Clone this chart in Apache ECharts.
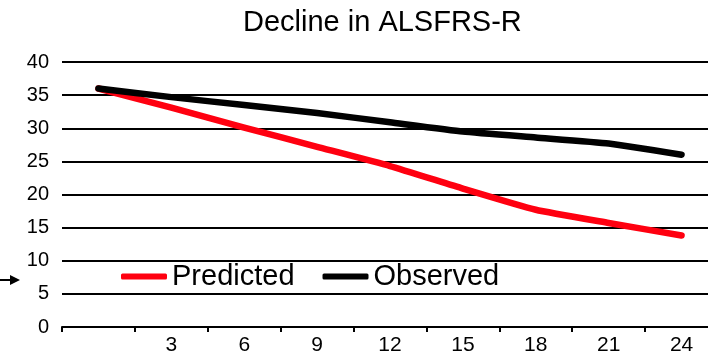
<!DOCTYPE html>
<html>
<head>
<meta charset="utf-8">
<script src="https://cdn.jsdelivr.net/npm/echarts@6/dist/echarts.min.js"></script>
<style>
html,body{margin:0;padding:0;background:#fff;}
#chart{width:708px;height:361px;}
</style>
</head>
<body>
<div id="chart"></div>
<script>
var months = ['0', '3', '6', '9', '12', '15', '18', '21', '24'];
var monthLabels = ['', '3', '6', '9', '12', '15', '18', '21', '24'];
var predicted = [36.0, 33.1, 30.1, 27.2, 24.3, 20.9, 17.7, 15.7, 13.8];
var observed = [36.0, 34.7, 33.5, 32.3, 30.9, 29.5, 28.6, 27.7, 26.0];
var yTicks = [0, 5, 10, 15, 20, 25, 30, 35, 40];

var chart = echarts.init(document.getElementById('chart'));
var font = 'Liberation Sans, Arial, sans-serif';
chart.setOption({
  animation: false,
  backgroundColor: '#fff',
  title: {
    text: 'Decline in ALSFRS-R',
    left: 243,
    top: 3,
    padding: [5, 0, 5, 0],
    textStyle: {fontFamily: font, fontSize: 29, fontWeight: 'normal', color: '#000'}
  },
  legend: {
    left: 121,
    top: 262,
    padding: 0,
    itemWidth: 46,
    itemHeight: 6,
    itemGap: 28,
    icon: 'roundRect',
    textStyle: {fontFamily: font, fontSize: 29, color: '#000'},
    data: ['Predicted', 'Observed']
  },
  grid: {left: 62, right: -10, top: 62, bottom: 34, outerBoundsMode: 'none', containLabel: false},
  xAxis: {
    type: 'category',
    data: months,
    boundaryGap: true,
    axisLine: {lineStyle: {color: '#000', width: 2}},
    axisTick: {show: true, length: 5, lineStyle: {color: '#000', width: 2}},
    axisLabel: {
      margin: 8,
      fontFamily: font, fontSize: 21, color: '#000',
      formatter: function (v, i) { return monthLabels[i]; }
    },
    splitLine: {show: false}
  },
  yAxis: {
    type: 'value',
    min: yTicks[0],
    max: yTicks[yTicks.length - 1],
    interval: 5,
    axisLine: {show: false},
    axisTick: {show: false},
    axisLabel: {margin: 13, fontFamily: font, fontSize: 20, color: '#000'},
    splitLine: {lineStyle: {color: '#000', width: 2}}
  },
  series: [
    {
      name: 'Predicted', type: 'line', data: predicted,
      symbol: 'none', smooth: 0.15,
      itemStyle: {color: '#ff0010'},
      lineStyle: {color: '#ff0010', width: 6.5, cap: 'round', join: 'round'},
      z: 3
    },
    {
      name: 'Observed', type: 'line', data: observed,
      symbol: 'none', smooth: 0.15,
      itemStyle: {color: '#000'},
      lineStyle: {color: '#000', width: 6.5, cap: 'round', join: 'round'},
      z: 4
    }
  ],
  graphic: [
    {type: 'line', shape: {x1: 0, y1: 280, x2: 12, y2: 280}, style: {stroke: '#000', lineWidth: 2}},
    {type: 'polygon', shape: {points: [[10, 275], [20, 280], [10, 285]]}, style: {fill: '#000'}}
  ]
});
</script>
</body>
</html>
